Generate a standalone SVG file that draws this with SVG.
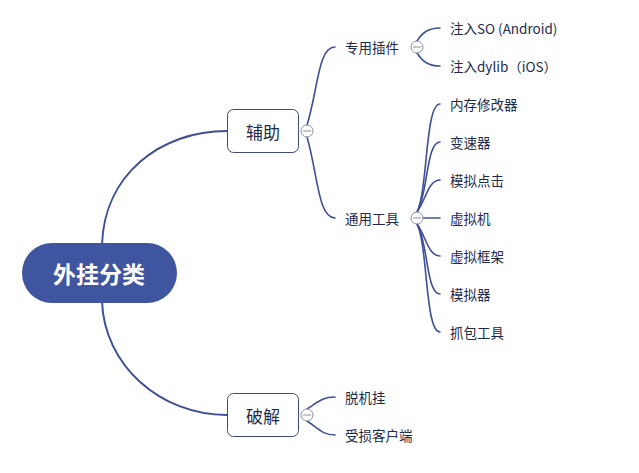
<svg xmlns="http://www.w3.org/2000/svg" width="639" height="473" viewBox="0 0 639 473">
<style>
.ln{fill:none;stroke:#3f4f96;stroke-width:2;stroke-linecap:round}
.ln2{fill:none;stroke:#3f4f96;stroke-width:1.6;stroke-linecap:round}
.box{fill:#fff;stroke:#3f4a7a;stroke-width:1}
.tg{fill:#fff;stroke:#8a8f99;stroke-width:1}
.tgl{stroke:#8a8f99;stroke-width:1}
text{font-family:"Noto Sans CJK SC","Liberation Sans",sans-serif;fill:#1e2a4a;dominant-baseline:central}
.t1{font-size:17px;text-anchor:middle}
.t2{font-size:13.5px}
.root{font-size:23px;font-weight:bold;fill:#fff;text-anchor:middle}
</style>
<rect width="639" height="473" fill="#fff"/>
<g id="connectors">
<path class="ln" d="M102,245 C104,175 160,131 227,131"/>
<path class="ln" d="M102,301 C104,365 160,415 227,415"/>
<path class="ln2" d="M307,125 C318,90 318,47 335,47"/>
<path class="ln2" d="M307,137 C318,175 318,218 335,218"/>
<path class="ln2" d="M417,41 C422,33 428,28 440,28"/>
<path class="ln2" d="M417,53 C422,61 428,66 440,66"/>
<path class="ln2" d="M417,212 C428,190 425,104 440,104"/>
<path class="ln2" d="M417,212 C428,195 426,142 440,142"/>
<path class="ln2" d="M417,212 C426,200 428,180 440,180"/>
<path class="ln2" d="M423,218 L440,218"/>
<path class="ln2" d="M417,224 C426,236 428,256 440,256"/>
<path class="ln2" d="M417,224 C428,241 426,294 440,294"/>
<path class="ln2" d="M417,224 C428,246 425,332 440,332"/>
<path class="ln2" d="M307,409 C318,402 322,397 335,397"/>
<path class="ln2" d="M307,421 C318,428 322,435 335,435"/>
</g>
<g id="root">
<rect x="22" y="243" width="155" height="60" rx="30" fill="#3f55a0"/>
<text class="root" x="99" y="273">外挂分类</text>
</g>
<g id="n-fuzhu">
<rect class="box" x="227.5" y="109.5" width="71" height="43" rx="6"/>
<text class="t1" x="263" y="131">辅助</text>
<circle class="tg" cx="307" cy="131" r="6"/>
<line class="tgl" x1="303" y1="131" x2="311" y2="131"/>
</g>
<g id="n-zhuanyong">
<text class="t2" x="345" y="47">专用插件</text>
<circle class="tg" cx="417" cy="47" r="6"/>
<line class="tgl" x1="413" y1="47" x2="421" y2="47"/>
</g>
<g id="n-so"><text class="t2" x="450" y="28">注入SO (Android)</text></g>
<g id="n-dylib"><text class="t2" x="450" y="66">注入dylib（iOS）</text></g>
<g id="n-tongyong">
<text class="t2" x="345" y="218">通用工具</text>
<circle class="tg" cx="417" cy="218" r="6"/>
<line class="tgl" x1="413" y1="218" x2="421" y2="218"/>
</g>
<g id="n-ncxg"><text class="t2" x="450" y="104">内存修改器</text></g>
<g id="n-bsq"><text class="t2" x="450" y="142">变速器</text></g>
<g id="n-mndj"><text class="t2" x="450" y="180">模拟点击</text></g>
<g id="n-xnj"><text class="t2" x="450" y="218">虚拟机</text></g>
<g id="n-xnkj"><text class="t2" x="450" y="256">虚拟框架</text></g>
<g id="n-mnq"><text class="t2" x="450" y="294">模拟器</text></g>
<g id="n-zbgj"><text class="t2" x="450" y="332">抓包工具</text></g>
<g id="n-pojie">
<rect class="box" x="227.5" y="393.5" width="71" height="43" rx="6"/>
<text class="t1" x="263" y="415">破解</text>
<circle class="tg" cx="307" cy="415" r="6"/>
<line class="tgl" x1="303" y1="415" x2="311" y2="415"/>
</g>
<g id="n-tjg"><text class="t2" x="345" y="397">脱机挂</text></g>
<g id="n-sskhd"><text class="t2" x="345" y="435">受损客户端</text></g>
</svg>
